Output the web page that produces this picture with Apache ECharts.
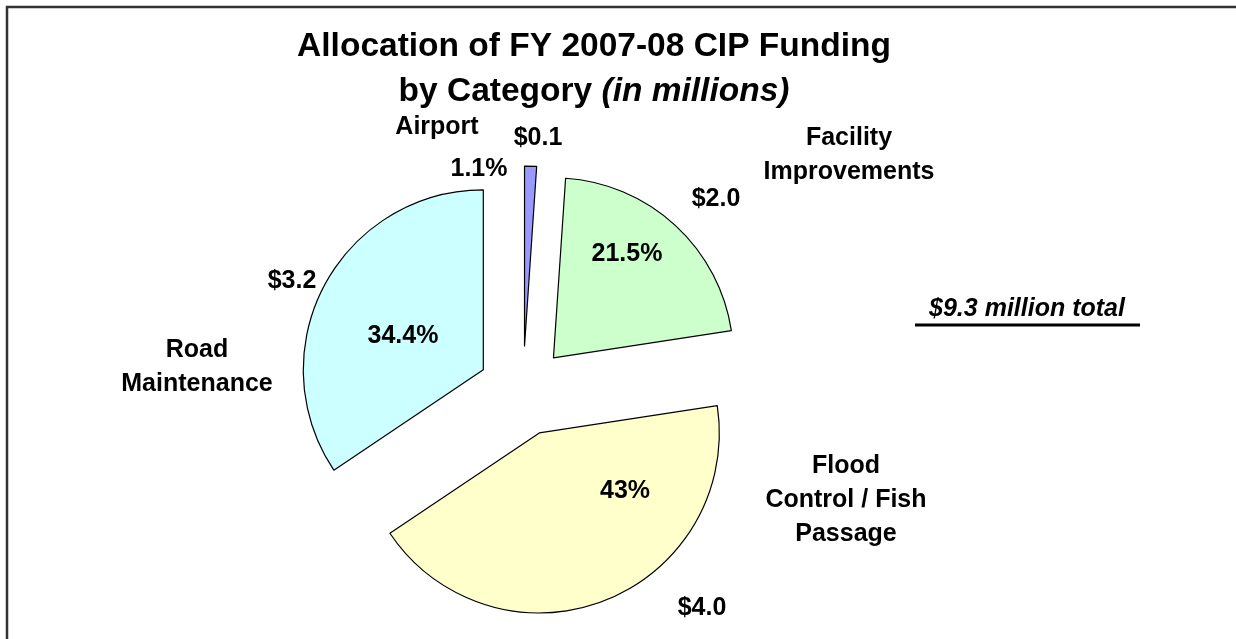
<!DOCTYPE html>
<html>
<head>
<meta charset="utf-8">
<title>Allocation of FY 2007-08 CIP Funding</title>
<script src="https://cdn.jsdelivr.net/npm/echarts@6/dist/echarts.min.js"></script>
<style>
  html, body { margin: 0; padding: 0; background: #fff; }
  #chart { width: 1236px; height: 639px; }
</style>
</head>
<body>
<div id="chart"></div>
<script>
// values in $ millions, clockwise from 12 o'clock
const categories = ['Airport', 'Facility\nImprovements', 'Flood\nControl / Fish\nPassage', 'Road\nMaintenance']
const values = [0.1, 2.0, 4.0, 3.2]
const sliceColors = ['#9999ff', '#ccffcc', '#ffffcc', '#ccffff']

// hand placed label spots (Excel dragged them around)
const namePos = [[437, 127], [849, 155], [846, 500], [197, 367]]
const valuePos = [[538, 138], [716, 199], [702, 608], [292, 281]]
const pctPos = [[479, 169], [627, 254], [625, 491], [403, 336]]

const total = values.reduce((a, b) => a + b, 0)

function pctText(v) {
  let s = (v / total * 100).toFixed(1)
  if (s.endsWith('.0')) s = s.slice(0, -2)
  return s + '%'
}

const labelFont = { fontFamily: 'Liberation Sans, Arial, sans-serif', fontWeight: 'bold', fontSize: 25, fill: '#000' }

function textEl(x, y, text, extra) {
  return {
    type: 'text',
    x: x,
    y: y,
    z: 100,
    silent: true,
    style: Object.assign({ text: text, align: 'center', verticalAlign: 'middle', lineHeight: 34 }, labelFont, extra || {})
  }
}

const labels = []
categories.forEach((name, i) => {
  labels.push(textEl(namePos[i][0], namePos[i][1], name))
  labels.push(textEl(valuePos[i][0], valuePos[i][1], '$' + values[i].toFixed(1)))
  labels.push(textEl(pctPos[i][0], pctPos[i][1], pctText(values[i])))
})

const chart = echarts.init(document.getElementById('chart'))

chart.setOption({
  animation: false,
  backgroundColor: '#fff',
  title: {
    text: 'Allocation of FY 2007-08 CIP Funding\n{b|by Category }{i|(in millions)}',
    left: 589,
    top: 19,
    textAlign: 'center',
    textStyle: {
      fontFamily: 'Liberation Sans, Arial, sans-serif',
      fontWeight: 'bold',
      fontSize: 33.5,
      color: '#000',
      lineHeight: 45,
      rich: {
        b: { fontFamily: 'Liberation Sans, Arial, sans-serif', fontWeight: 'bold', fontSize: 33.5, lineHeight: 45, color: '#000' },
        i: { fontFamily: 'Liberation Sans, Arial, sans-serif', fontWeight: 'bold', fontStyle: 'italic', fontSize: 33.5, lineHeight: 45, color: '#000' }
      }
    }
  },
  series: [
    {
      type: 'pie',
      center: [523, 391],
      radius: 180,
      startAngle: 90,
      clockwise: true,
      selectedMode: 'multiple',
      selectedOffset: 45,
      avoidLabelOverlap: false,
      label: { show: false },
      labelLine: { show: false },
      itemStyle: { borderColor: '#000', borderWidth: 1.2 },
      emphasis: { scale: false, itemStyle: { borderColor: '#000', borderWidth: 1.2 } },
      select: { itemStyle: { borderColor: '#000', borderWidth: 1.2 } },
      data: categories.map((name, i) => ({
        name: name,
        value: values[i],
        selected: true,
        itemStyle: { color: sliceColors[i] },
        select: { itemStyle: { color: sliceColors[i], borderColor: '#000', borderWidth: 1.2 } }
      }))
    }
  ],
  graphic: [
    // chart frame, only left and top edges are in view
    {
      type: 'polyline',
      silent: true,
      shape: { points: [[7, 639], [7, 7], [1236, 7]] },
      style: { stroke: '#333', lineWidth: 2.5, fill: null }
    },
    textEl(1027, 309, '$' + total.toFixed(1) + ' million total', { fontStyle: 'italic' }),
    {
      type: 'line',
      silent: true,
      z: 100,
      shape: { x1: 915, y1: 325, x2: 1140, y2: 325 },
      style: { stroke: '#000', lineWidth: 3 }
    }
  ].concat(labels)
})
</script>
</body>
</html>
